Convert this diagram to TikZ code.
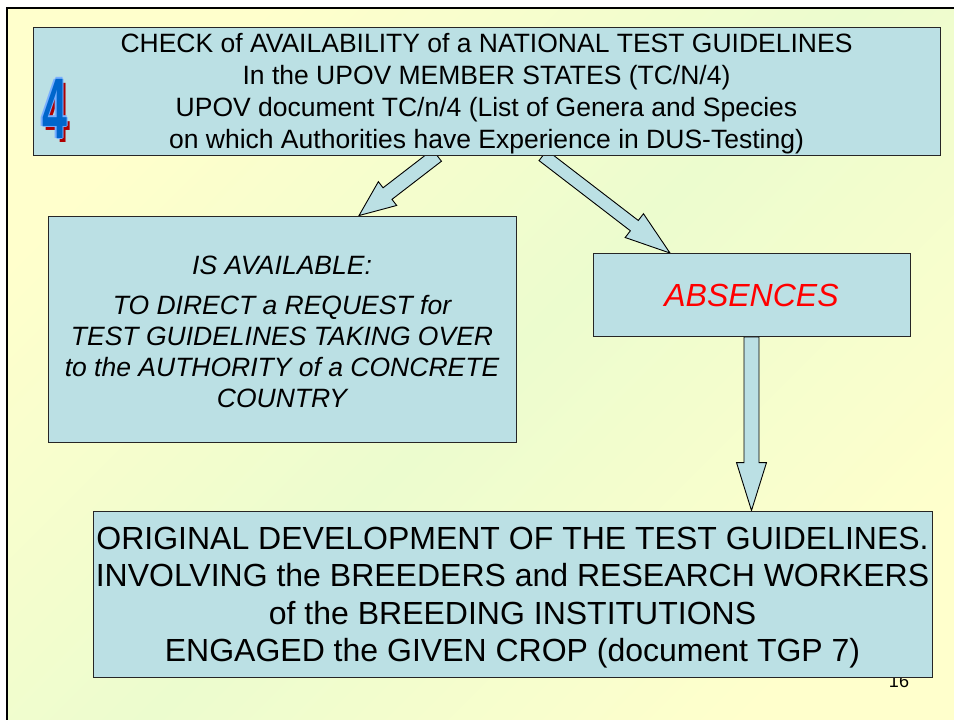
\documentclass[tikz,border=0pt]{standalone}
\usepackage{fontspec}
\setmainfont{Liberation Sans}
\usetikzlibrary{calc,positioning}

\definecolor{boxblue}{RGB}{187,224,228}
\definecolor{bgyellow}{RGB}{255,255,204}
\definecolor{bggreen}{RGB}{236,252,206}
\definecolor{numblue}{RGB}{0,102,204}
\definecolor{numlight}{RGB}{120,175,255}
\definecolor{numred}{RGB}{175,0,0}

\pgfdeclarelayer{slide}
\pgfdeclarelayer{arrows}
\pgfsetlayers{slide,arrows,main}

\tikzset{
  box/.style={draw=black!85, fill=boxblue, inner sep=0pt, line width=0.9pt},
  boxtext/.style={align=center, inner sep=0pt},
  arrowfill/.style={draw=black, fill=boxblue, line width=0.9pt, line join=miter},
  bignum/.style={font=\bfseries\fontsize{86}{86}\selectfont, xscale=.52, inner sep=0pt},
}

% block arrow: from, to, half shaft width, head length
\newcommand\blockarrow[4]{%
  \coordinate (ba-h) at ($(#2)!#4!(#1)$);
  \filldraw[arrowfill] ($(#1)!#3!90:(#2)$) -- ($(ba-h)!#3!90:(#2)$) -- ($(ba-h)!15pt!90:(#2)$)
    -- (#2) -- ($(ba-h)!15pt!-90:(#2)$) -- ($(ba-h)!#3!-90:(#2)$) -- ($(#1)!#3!-90:(#2)$) -- cycle;
}

\begin{document}
\begin{tikzpicture}[x=1pt,y=-1pt]
	\useasboundingbox (0,0) rectangle (954,720);
	\clip (0,0) rectangle (954,720);
	\begin{pgfonlayer}{slide}
		\shade[top color=bgyellow, bottom color=bgyellow, middle color=bggreen, shading angle=45] (7,8) rectangle (980,740);
		\draw[line width=2.2pt] (7,740) -- (7,8) -- (980,8);
	\end{pgfonlayer}

	% slide number, half hidden by the last box
	\node[font=\fontsize{18}{18}\selectfont] (page) at (899,681) {16};

	\node[box, minimum width=907pt, minimum height=128pt] (check) at (486.5,91) {};
	\node[boxtext, font=\fontsize{26.5}{32}\selectfont] (check-text) at ($(check)+(0,3)$)
		{CHECK of AVAILABILITY of a NATIONAL TEST GUIDELINES\\ In the UPOV MEMBER STATES (TC/N/4)\\ UPOV document TC/n/4 (List of Genera and Species\\ on which Authorities have Experience in DUS-Testing)};
	\node[box, minimum width=468pt, minimum height=226pt] (avail) at (282,329) {};
	\node[boxtext, font=\itshape\fontsize{26.5}{31}\selectfont] (avail-text) at ($(avail)+(0,3)$)
		{IS AVAILABLE:\\[9pt] TO DIRECT a REQUEST for\\ TEST GUIDELINES TAKING OVER\\ to the AUTHORITY of a CONCRETE\\ COUNTRY};
	\node[box, minimum width=317pt, minimum height=83pt] (absent) at (751.5,295) {};
	\node[boxtext, font=\itshape\fontsize{32}{32}\selectfont, text=red] (absent-text) at (absent) {ABSENCES};
	\node[box, minimum width=839pt, minimum height=166pt] (develop) at (512.5,594) {};
	\node[boxtext, font=\fontsize{32}{37.5}\selectfont] (develop-text) at ($(develop)+(0,3.5)$)
		{ORIGINAL DEVELOPMENT OF THE TEST GUIDELINES.\\ INVOLVING the BREEDERS and RESEARCH WORKERS\\ of the BREEDING INSTITUTIONS\\ ENGAGED the GIVEN CROP (document TGP 7)};

	% the big number
	\node[bignum, text=numred] (num-shadow) at (58,112.5) {4};
	\foreach \dx/\dy in {-1.3/0,1.3/0,0/-1.3,0/1.3}
		\node[bignum, text=numlight] (num-edge) at (54.5+\dx,108.5+\dy) {4};
	\node[bignum, text=numblue] (num) at (54.5,108.5) {4};

	% arrows, under the boxes
	\coordinate (a1s) at ($(check.south)+(-49.5,0)$);
	\coordinate (a1t) at ($(avail.north)+(77,0)$);
	\coordinate (a2s) at ($(check.south)+(56.5,0)$);
	\coordinate (a2t) at ($(absent.north)+(-81.5,0)$);
	\coordinate (a3t) at (develop.north -| absent.south);
	\begin{pgfonlayer}{arrows}
		\blockarrow{a1s}{a1t}{7.3pt}{36pt}
		\blockarrow{a2s}{a2t}{6.5pt}{45pt}
		\blockarrow{absent.south}{a3t}{7.5pt}{48pt}
	\end{pgfonlayer}
\end{tikzpicture}
\end{document}
